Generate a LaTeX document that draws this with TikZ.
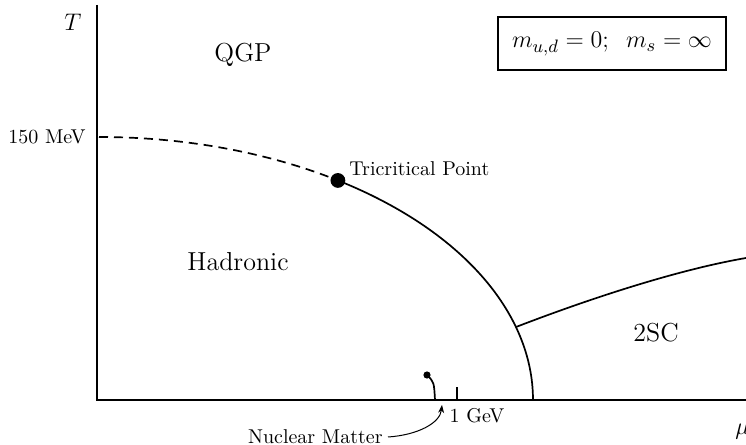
\documentclass[tikz,border=0pt]{standalone}
\usetikzlibrary{arrows.meta}
\begin{document}
\begin{tikzpicture}[x=0.5pt,y=0.5pt,
  axis/.style={line width=0.55pt},
  curve/.style={line width=0.85pt},
  lbl/.style={inner sep=0pt},
  region/.style={inner sep=0pt,font=\fontsize{13}{15}\selectfont}]
\useasboundingbox (0,0) rectangle (746,445);
% axes
\coordinate (O) at (97,45);
\coordinate (ytop) at (97,440);
\coordinate (xend) at (746,45);
\draw[axis] (ytop) -- (O) -- (xend);
% tick
\coordinate (tickb) at (457,45);
\coordinate (tickt) at (457,58);
\draw[axis] (tickb) -- (tickt);
% ellipse arc
\coordinate (Tc) at (99,308);
\draw[curve,dash pattern=on 4.5pt off 3pt] (Tc) arc[start angle=90,end angle=56.6,x radius=217pt,y radius=131.5pt] coordinate (TCP);
\draw[curve] (TCP) arc[start angle=56.6,end angle=0,x radius=217pt,y radius=131.5pt] coordinate (muc);
\fill (TCP) circle[radius=3.7pt];
% 2SC line
\coordinate (s0) at (516,118);
\coordinate (s1) at (746,187);
\draw[curve] (s0) .. controls (586,145) and (676,175) .. (s1);
% nuclear matter
\coordinate (nm) at (427,70);
\coordinate (nmb) at (435,45);
\fill (nm) circle[radius=1.8pt];
\draw[curve] (nm) .. controls (434,63) .. (nmb);
% labels
\node[lbl,anchor=east] (nml) at (383,8) {Nuclear Matter};
\coordinate (arrs) at (388,8);
\coordinate (arre) at (442,40);
\draw[line width=0.5pt,-{Stealth[length=4pt,width=3pt]}] (arrs) .. controls (418,10) and (440,22) .. (arre);
\node[lbl] (gev) at (477,29) {1 GeV};
\node[lbl,anchor=east] (mev) at (86,308) {150 MeV};
\node[lbl,anchor=west] (tcl) at (349,276) {Tricritical Point};
\node[region] (qgp) at (243,390) {QGP};
\node[region] (had) at (238,183) {Hadronic};
\node[region] (sc) at (656,112) {2SC};
\node[lbl,font=\fontsize{13}{15}\selectfont] (T) at (73,423) {$T$};
\node[lbl,font=\fontsize{13}{15}\selectfont,anchor=west] (mu) at (735,13) {$\mu$};
% box
\draw[line width=0.55pt] (498,375) rectangle (726,428);
\node[lbl,font=\fontsize{13}{15}\selectfont] (box) at (612,401) {$m_{u,d}=0;\;\; m_s=\infty$};
\end{tikzpicture}
\end{document}
